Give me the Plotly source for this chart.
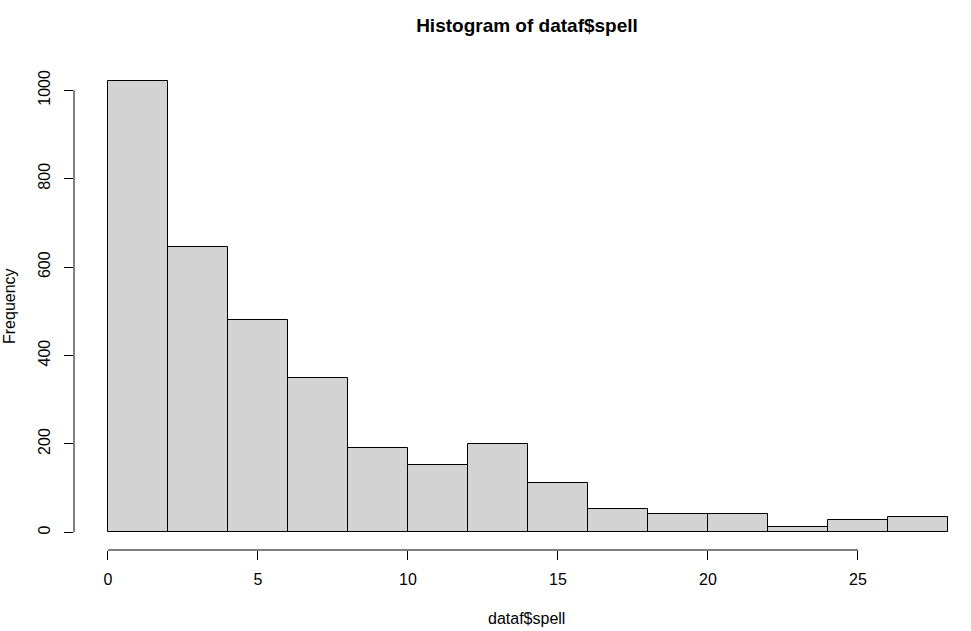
import plotly.graph_objects as go

# histogram of dataf$spell, bins of width 2
bin_edges = [0, 2, 4, 6, 8, 10, 12, 14, 16, 18, 20, 22, 24, 26, 28]
counts = [1022, 645, 480, 348, 190, 152, 199, 111, 52, 41, 41, 11, 27, 34]

x_ticks = [0, 5, 10, 15, 20, 25]
y_ticks = [0, 200, 400, 600, 800, 1000]

font_family = "Liberation Sans, Arial, sans-serif"

centers = [(a + b) / 2 for a, b in zip(bin_edges[:-1], bin_edges[1:])]
widths = [b - a for a, b in zip(bin_edges[:-1], bin_edges[1:])]

fig = go.Figure()
fig.add_trace(go.Bar(
    x=centers, y=counts, width=widths,
    marker=dict(color="#D3D3D3", line=dict(color="black", width=1)),
    hoverinfo="x+y",
))

# R-style axis lines, only across the tick range
fig.add_shape(type="line", xref="paper", yref="y", x0=0, x1=0,
              y0=y_ticks[0], y1=y_ticks[-1], line=dict(color="black", width=1))
fig.add_shape(type="line", xref="x", yref="paper", x0=x_ticks[0], x1=x_ticks[-1],
              y0=0, y1=0, line=dict(color="black", width=1))

fig.update_layout(
    width=971, height=631,
    margin=dict(l=74, r=0, t=62, b=81),
    plot_bgcolor="white", paper_bgcolor="white",
    showlegend=False, bargap=0,
    font=dict(family=font_family, size=16, color="black"),
    title=dict(text="<b>Histogram of dataf$spell</b>", font=dict(size=19),
               x=0.505, xanchor="center", xref="paper",
               y=1 - 25 / 631, yanchor="middle", yref="container"),
    xaxis=dict(range=[-1.133, 28.767], tickvals=x_ticks, ticks="outside",
               ticklen=9, tickcolor="black", tickwidth=1, showgrid=False,
               zeroline=False, showline=False, ticklabelstandoff=6),
    yaxis=dict(range=[-40.0, 1064], tickvals=y_ticks, ticks="outside",
               ticklen=9, tickcolor="black", tickwidth=1, showgrid=False,
               zeroline=False, showline=False, tickangle=-90,
               ticklabelstandoff=8),
    annotations=[
        dict(text="dataf$spell", xref="paper", yref="paper", x=0.505, y=-68 / 488,
             xanchor="center", yanchor="middle", showarrow=False),
        dict(text="Frequency", xref="paper", yref="paper", x=-65 / 897, y=0.5,
             xanchor="center", yanchor="middle", textangle=-90, showarrow=False),
    ],
)

# drop the default page margin so the figure sits at the window's corner
fig.write_html("out.html", config={"displayModeBar": False},
               post_script="document.body.style.margin = '0';")
